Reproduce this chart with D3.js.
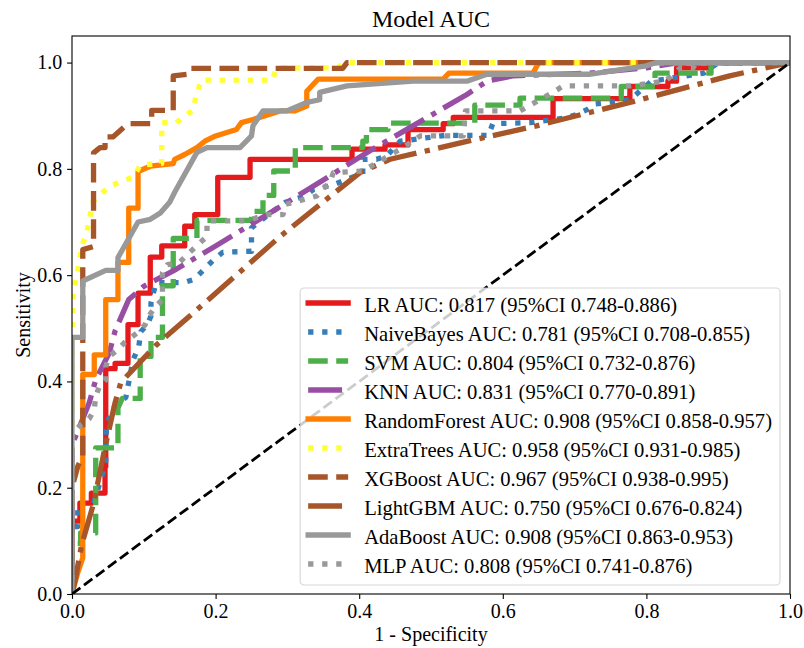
<!DOCTYPE html>
<html>
<head>
<meta charset="utf-8">
<script src="https://d3js.org/d3.v7.min.js"></script>
<style>
  body { margin: 0; background: #fff; }
  text { font-family: "Liberation Serif", "Times New Roman", serif; fill: #000; }
</style>
</head>
<body>
<div id="chart"></div>
<script>

// model names, AUC and confidence intervals (legend text)
var models = ["LR", "NaiveBayes", "SVM", "KNN", "RandomForest", "ExtraTrees", "XGBoost", "LightGBM", "AdaBoost", "MLP"];
var aucs   = ["0.817", "0.781", "0.804", "0.831", "0.908", "0.958", "0.967", "0.750", "0.908", "0.808"];
var ciLow  = ["0.748", "0.708", "0.732", "0.770", "0.858", "0.931", "0.938", "0.676", "0.863", "0.741"];
var ciHigh = ["0.886", "0.855", "0.876", "0.891", "0.957", "0.985", "0.995", "0.824", "0.953", "0.876"];

// ROC points [fpr, tpr]
var rocLR = [[0,0],[0,0.137],[0.011,0.137],[0.011,0.171],[0.027,0.171],[0.027,0.19],[0.046,0.19],[0.046,0.24],[0.047,0.24],[0.047,0.424],[0.06,0.424],[0.06,0.434],[0.078,0.434],[0.078,0.507],[0.092,0.507],[0.092,0.566],[0.109,0.566],[0.109,0.634],[0.125,0.634],[0.125,0.655],[0.157,0.655],[0.157,0.692],[0.171,0.692],[0.171,0.714],[0.203,0.714],[0.203,0.784],[0.248,0.784],[0.248,0.818],[0.39,0.818],[0.39,0.837],[0.436,0.837],[0.436,0.845],[0.468,0.845],[0.468,0.874],[0.517,0.874],[0.517,0.885],[0.531,0.885],[0.531,0.897],[0.67,0.897],[0.67,0.932],[0.777,0.932],[0.777,0.955],[0.83,0.955],[0.83,0.965],[0.842,0.965],[0.842,0.99],[0.89,0.99],[0.89,1],[1,1]];
var rocNB = [[0,0],[0,0.127],[0.008,0.127],[0.008,0.17],[0.03,0.17],[0.043,0.228],[0.047,0.25],[0.048,0.32],[0.06,0.355],[0.075,0.37],[0.085,0.44],[0.093,0.466],[0.096,0.494],[0.105,0.507],[0.11,0.523],[0.11,0.548],[0.117,0.586],[0.156,0.586],[0.17,0.592],[0.198,0.63],[0.21,0.643],[0.25,0.645],[0.25,0.689],[0.27,0.71],[0.297,0.737],[0.325,0.749],[0.336,0.761],[0.364,0.77],[0.39,0.784],[0.405,0.79],[0.405,0.818],[0.424,0.818],[0.438,0.824],[0.457,0.852],[0.48,0.856],[0.52,0.863],[0.58,0.863],[0.586,0.885],[0.638,0.887],[0.688,0.896],[0.702,0.902],[0.718,0.912],[0.728,0.922],[0.777,0.93],[0.807,0.965],[0.86,0.976],[0.88,0.98],[0.9,1],[1,1]];
var rocSVM = [[0,0],[0,0.095],[0.012,0.095],[0.012,0.115],[0.033,0.115],[0.033,0.275],[0.064,0.275],[0.064,0.35],[0.07,0.368],[0.095,0.368],[0.095,0.447],[0.11,0.447],[0.11,0.483],[0.126,0.483],[0.126,0.58],[0.141,0.58],[0.141,0.669],[0.174,0.669],[0.174,0.703],[0.25,0.703],[0.25,0.72],[0.266,0.72],[0.266,0.75],[0.281,0.75],[0.281,0.796],[0.311,0.796],[0.311,0.84],[0.405,0.84],[0.405,0.852],[0.41,0.852],[0.41,0.874],[0.44,0.874],[0.44,0.886],[0.561,0.886],[0.561,0.92],[0.624,0.92],[0.624,0.933],[0.765,0.933],[0.765,0.955],[0.812,0.955],[0.812,0.98],[0.89,0.98],[0.89,1],[1,1]];
var rocKNN = [[0,0],[0,0.28],[0.024,0.36],[0.033,0.403],[0.052,0.454],[0.06,0.495],[0.079,0.554],[0.1,0.579],[0.145,0.611],[0.2,0.655],[0.3,0.737],[0.415,0.834],[0.55,0.94],[0.578,0.965],[0.614,0.975],[0.72,0.98],[0.8,0.99],[0.845,1],[1,1]];
var rocRF = [[0,0],[0.008,0.04],[0.015,0.068],[0.015,0.413],[0.031,0.413],[0.031,0.45],[0.047,0.45],[0.047,0.554],[0.064,0.554],[0.064,0.624],[0.079,0.624],[0.079,0.726],[0.092,0.726],[0.092,0.795],[0.109,0.805],[0.141,0.81],[0.143,0.818],[0.157,0.827],[0.174,0.84],[0.185,0.852],[0.2,0.862],[0.229,0.874],[0.236,0.887],[0.252,0.893],[0.29,0.909],[0.31,0.909],[0.327,0.918],[0.327,0.946],[0.343,0.969],[0.517,0.969],[0.525,0.98],[0.642,0.98],[0.65,1],[1,1]];
var rocET = [[0,0],[0,0.49],[0.002,0.574],[0.007,0.6],[0.013,0.65],[0.021,0.683],[0.029,0.738],[0.05,0.765],[0.057,0.77],[0.086,0.785],[0.095,0.807],[0.125,0.81],[0.125,0.887],[0.145,0.887],[0.168,0.91],[0.172,0.932],[0.18,0.967],[0.279,0.967],[0.285,0.99],[0.37,0.99],[0.38,1],[1,1]];
var rocXGB = [[0,0],[0,0.2],[0.008,0.24],[0.015,0.26],[0.015,0.648],[0.03,0.654],[0.03,0.83],[0.039,0.84],[0.046,0.84],[0.046,0.86],[0.057,0.86],[0.078,0.885],[0.111,0.885],[0.111,0.91],[0.141,0.91],[0.141,0.975],[0.16,0.978],[0.164,0.989],[0.377,0.989],[0.383,1],[1,1]];
var rocLGBM = [[0,0],[0.005,0.03],[0.013,0.09],[0.03,0.17],[0.045,0.27],[0.06,0.36],[0.068,0.398],[0.117,0.468],[0.164,0.523],[0.29,0.673],[0.401,0.793],[0.443,0.818],[0.564,0.856],[0.647,0.881],[0.777,0.925],[0.916,0.975],[1,1]];
var rocAda = [[0,0],[0,0.483],[0.015,0.483],[0.015,0.589],[0.047,0.609],[0.064,0.609],[0.064,0.633],[0.092,0.7],[0.109,0.705],[0.123,0.717],[0.136,0.737],[0.143,0.756],[0.174,0.831],[0.188,0.84],[0.234,0.84],[0.25,0.862],[0.252,0.881],[0.266,0.909],[0.299,0.909],[0.327,0.925],[0.345,0.93],[0.345,0.944],[0.383,0.956],[0.475,0.965],[0.55,0.965],[0.578,0.978],[0.72,0.978],[0.8,0.994],[0.814,1],[1,1]];
var rocMLP = [[0,0],[0,0.3],[0.013,0.32],[0.024,0.33],[0.031,0.347],[0.033,0.372],[0.038,0.39],[0.047,0.403],[0.047,0.428],[0.052,0.447],[0.064,0.46],[0.073,0.473],[0.093,0.494],[0.102,0.507],[0.107,0.523],[0.117,0.542],[0.126,0.554],[0.126,0.605],[0.133,0.62],[0.149,0.623],[0.164,0.643],[0.188,0.673],[0.188,0.702],[0.243,0.702],[0.271,0.714],[0.294,0.714],[0.297,0.733],[0.341,0.749],[0.36,0.777],[0.364,0.793],[0.405,0.796],[0.461,0.84],[0.485,0.862],[0.545,0.862],[0.548,0.909],[0.624,0.909],[0.67,0.944],[0.684,0.956],[0.777,0.956],[0.826,0.965],[0.847,0.99],[0.865,0.99],[0.87,1],[1,1]];

var rocs = [rocLR, rocNB, rocSVM, rocKNN, rocRF, rocET, rocXGB, rocLGBM, rocAda, rocMLP];
var chance = [[0,0],[1,1]];

var xTicks = [0, 0.2, 0.4, 0.6, 0.8, 1.0];
var yTicks = [0, 0.2, 0.4, 0.6, 0.8, 1.0];

// styling (matplotlib Set1 colours, line styles)
var colors = ["#e41a1c", "#377eb8", "#4daf4a", "#984ea3", "#ff7f00", "#ffff33", "#a65628", "#a65628", "#999999", "#999999"];
var styles = ["solid", "dotted", "dashed", "dashdot", "solid", "dotted", "dashed", "dashdot", "solid", "dotted"];
var lw = 5.3;
var dashes = {
  solid: null,
  dotted: [lw, 1.65 * lw].join(","),
  dashed: [3.7 * lw, 1.6 * lw].join(","),
  dashdot: [6.4 * lw, 1.6 * lw, lw, 1.6 * lw].join(",")
};

var margin = {top: 36, right: 14, bottom: 54, left: 72},
    width = 804 - margin.left - margin.right,
    height = 648 - margin.top - margin.bottom;

var svg = d3.select("#chart")
  .append("svg")
    .attr("width", 804)
    .attr("height", 648);

var g = svg.append("g")
    .attr("transform", "translate(" + margin.left + "," + margin.top + ")");

var x = d3.scaleLinear().domain([0, 1]).range([0, width]);
var y = d3.scaleLinear().domain([0, 1.05]).range([height, 0]);

g.append("clipPath").attr("id", "plotclip")
  .append("rect").attr("width", width).attr("height", height);

// axes
var xAxis = g.append("g")
  .attr("transform", "translate(0," + height + ")")
  .call(d3.axisBottom(x).tickValues(xTicks).tickFormat(d3.format(".1f")).tickSize(4.9).tickPadding(4.9));
var yAxis = g.append("g")
  .call(d3.axisLeft(y).tickValues(yTicks).tickFormat(d3.format(".1f")).tickSize(4.9).tickPadding(4.9));

[xAxis, yAxis].forEach(function(a) {
  a.select(".domain").remove();
  a.selectAll("line").attr("stroke", "#000").attr("stroke-width", 1.1);
  a.selectAll("text").style("font-size", "20px").style("font-family", "Liberation Serif, Times New Roman, serif");
});

var line = d3.line()
  .x(function(d) { return x(d[0]); })
  .y(function(d) { return y(d[1]); });

var curves = g.append("g").attr("clip-path", "url(#plotclip)");

curves.selectAll("path.roc")
  .data(rocs)
  .enter()
  .append("path")
    .attr("class", "roc")
    .attr("d", line)
    .attr("fill", "none")
    .attr("stroke", function(d, i) { return colors[i]; })
    .attr("stroke-width", lw)
    .attr("stroke-linejoin", "round")
    .attr("stroke-linecap", function(d, i) { return styles[i] == "solid" ? "square" : "butt"; })
    .attr("stroke-dasharray", function(d, i) { return dashes[styles[i]]; });

curves.append("path")
  .attr("d", line(chance))
  .attr("fill", "none")
  .attr("stroke", "#000")
  .attr("stroke-width", 2.8)
  .attr("stroke-dasharray", "10.4,4.5");

// frame
g.append("rect")
  .attr("width", width)
  .attr("height", height)
  .attr("fill", "none")
  .attr("stroke", "#000")
  .attr("stroke-width", 1.1);

// title and labels
svg.append("text")
  .attr("x", margin.left + width / 2)
  .attr("y", 27)
  .attr("text-anchor", "middle")
  .style("font-size", "24px")
  .text("Model AUC");

svg.append("text")
  .attr("x", margin.left + width / 2)
  .attr("y", 641)
  .attr("text-anchor", "middle")
  .style("font-size", "20px")
  .text("1 - Specificity");

svg.append("text")
  .attr("transform", "translate(30," + (margin.top + height / 2) + ") rotate(-90)")
  .attr("text-anchor", "middle")
  .style("font-size", "20px")
  .text("Sensitivity");

// legend
var fs = 20.6, rowH = 29, pad = 8, handleLen = 40, textPad = 16;
var legend = g.append("g");
var box = legend.append("rect")
  .attr("rx", 4).attr("ry", 4)
  .attr("fill", "#fff")
  .attr("fill-opacity", 0.8)
  .attr("stroke", "#cccccc")
  .attr("stroke-opacity", 0.8)
  .attr("stroke-width", 1.1);

var rows = legend.selectAll("g.row")
  .data(models)
  .enter()
  .append("g")
    .attr("class", "row")
    .attr("transform", function(d, i) { return "translate(0," + (15 + i * rowH) + ")"; });

rows.append("line")
  .attr("x1", pad).attr("x2", pad + handleLen)
  .attr("y1", 0).attr("y2", 0)
  .attr("stroke", function(d, i) { return colors[i]; })
  .attr("stroke-width", lw)
  .attr("stroke-linecap", function(d, i) { return styles[i] == "solid" ? "square" : "butt"; })
  .attr("stroke-dasharray", function(d, i) { return dashes[styles[i]]; });

rows.append("text")
  .attr("x", pad + handleLen + textPad)
  .attr("y", 8.5)
  .style("font-size", fs + "px")
  .text(function(d, i) { return d + " AUC: " + aucs[i] + " (95%CI " + ciLow[i] + "-" + ciHigh[i] + ")"; });

var maxW = d3.max(rows.selectAll("text").nodes(), function(n) { return n.getComputedTextLength(); });
var boxW = pad + handleLen + textPad + maxW + pad;
var boxH = rows.size() * rowH + 7;
box.attr("width", boxW).attr("height", boxH);
legend.attr("transform", "translate(" + (width - 10 - boxW) + "," + (height - 9 - boxH) + ")");

</script>
</body>
</html>
